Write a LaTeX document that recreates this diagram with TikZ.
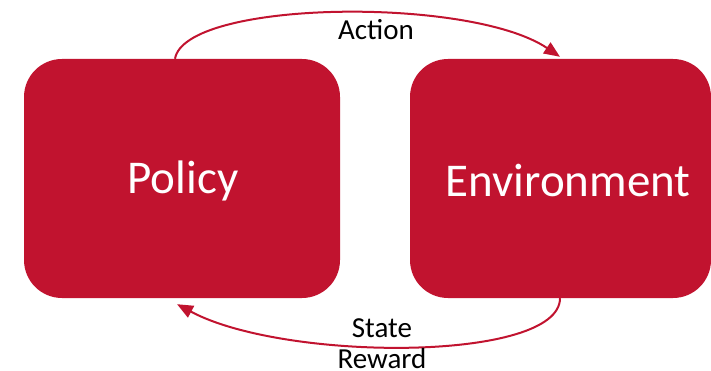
\documentclass[tikz,border=0pt]{standalone}
\usepackage{fontspec}
\setmainfont{Carlito}
\usetikzlibrary{arrows.meta}
\definecolor{crimson}{RGB}{193,19,47}
\begin{document}
\begin{tikzpicture}[x=1pt,y=-1pt,
  block/.style={fill=crimson,draw=none,rounded corners=38pt,inner sep=0pt},
  blocktext/.style={text=white,font=\fontsize{47}{50}\selectfont,inner sep=0pt},
  flowlabel/.style={text=black,font=\fontsize{29}{32}\selectfont,inner sep=0pt},
  flow/.style={draw=crimson,line width=2pt,-{Triangle[length=16pt,width=13pt]}}]
  \useasboundingbox (0,0) rectangle (711,371);
  % the two blocks
  \node[block,minimum width=316pt,minimum height=239pt] (policy) at (182,178.5) {};
  \node[block,minimum width=301pt,minimum height=239pt] (env) at (560.5,178.5) {};
  \node[blocktext] (policytext) at (183,181) {Policy};
  \node[blocktext] (envtext) at (568,181) {Environment};
  % action: policy -> environment
  \draw[flow] ([xshift=-7pt]policy.north) .. controls (185,0) and (470,-4) .. ([xshift=-0.5pt,yshift=2pt]env.north);
  \node[flowlabel] (action) at (376,30) {Action};
  % state and reward: environment -> policy
  \draw[flow] ([xshift=-0.5pt]env.south) .. controls (560,362) and (285,362) .. ([xshift=-5pt,yshift=-6pt]policy.south);
  \node[flowlabel] (state) at (382,328) {State};
  \node[flowlabel] (reward) at (382,359) {Reward};
\end{tikzpicture}
\end{document}
